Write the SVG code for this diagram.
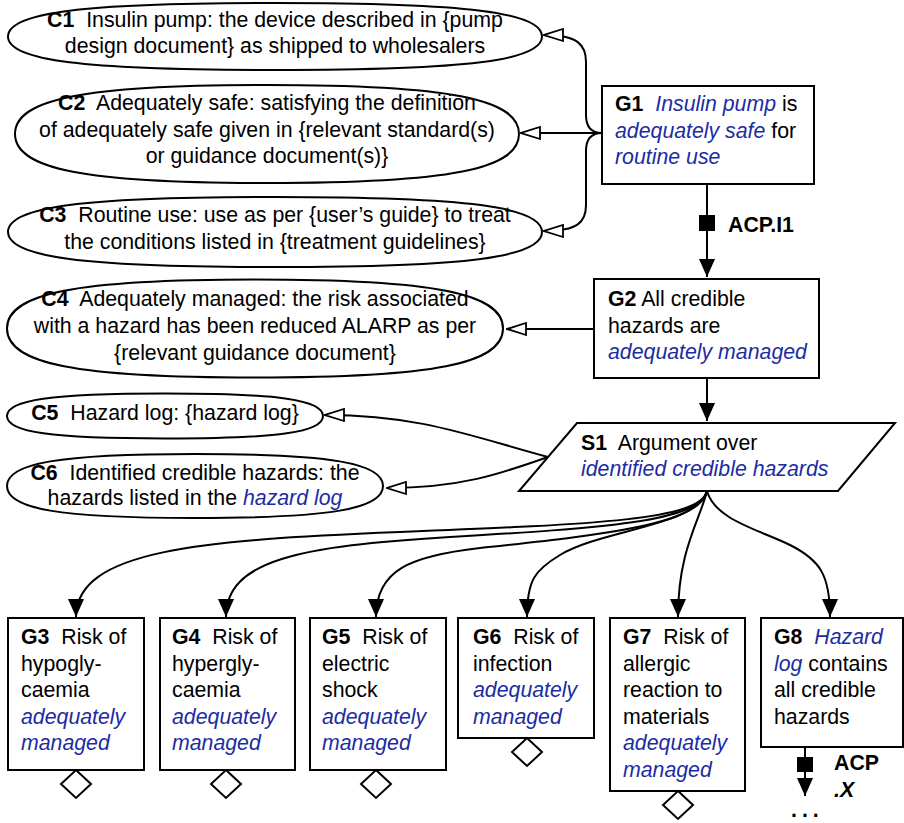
<svg xmlns="http://www.w3.org/2000/svg" width="904" height="823" viewBox="0 0 904 823">
<style>
.t{font-family:"Liberation Sans",Arial,Helvetica,sans-serif;font-size:21.3px;fill:#000}
.m{text-anchor:middle}
.b{font-weight:bold}
.i{font-style:italic;fill:#1c2ca3}
.s{fill:#fff;stroke:#000;stroke-width:2}
.c{fill:none;stroke:#000;stroke-width:2}
</style>
<defs>
<marker id="fa" viewBox="0 0 18 16" refX="18" refY="8" markerWidth="18" markerHeight="16" orient="auto" markerUnits="userSpaceOnUse"><path d="M0,0 L18,8 L0,16 Z" fill="#000"/></marker>
<marker id="oa" viewBox="-1 -1 21 14" refX="19" refY="6" markerWidth="21" markerHeight="14" orient="auto" markerUnits="userSpaceOnUse"><path d="M0,0 L19,6 L0,12 Z" fill="#fff" stroke="#000" stroke-width="1.8"/></marker>
</defs>
<rect width="904" height="823" fill="#fff"/>

<g id="connectors">
<path class="c" d="M602,133 C592,133 586,127 586,115 L586,62 C586,45 578,35 544,35" marker-end="url(#oa)"/>
<path class="c" d="M602,133 L521,133" marker-end="url(#oa)"/>
<path class="c" d="M602,133 C592,133 586,139 586,151 L586,205 C586,222 578,231 544,231" marker-end="url(#oa)"/>
<path class="c" d="M707,184 L707,277" marker-end="url(#fa)"/>
<rect x="699" y="215" width="16" height="16" fill="#000"/>
<path class="c" d="M594,329 L507,329" marker-end="url(#oa)"/>
<path class="c" d="M707,378 L707,421" marker-end="url(#fa)"/>
<path class="c" d="M548,457 C470,436 420,415 325,415" marker-end="url(#oa)"/>
<path class="c" d="M548,457 C500,474 460,488 387,488" marker-end="url(#oa)"/>
<path class="c" d="M707,491 C700,520 600,524 400,532 C200,540 76,550 76,617" marker-end="url(#fa)"/>
<path class="c" d="M707,491 C700,522 600,528 450,537 C300,546 226,560 226,617" marker-end="url(#fa)"/>
<path class="c" d="M707,491 C700,525 600,535 480,548 C410,556 376,570 376,617" marker-end="url(#fa)"/>
<path class="c" d="M707,491 C700,525 600,530 560,555 C535,570 527,580 527,617" marker-end="url(#fa)"/>
<path class="c" d="M707,491 C700,520 678,550 678,617" marker-end="url(#fa)"/>
<path class="c" d="M707,491 C715,520 760,530 790,545 C820,560 830,575 830,617" marker-end="url(#fa)"/>
<path class="c" d="M805,747 L805,796" marker-end="url(#fa)"/>
<rect x="797" y="757" width="16" height="15" fill="#000"/>
</g>

<g id="C1">
<path class="s" d="M8,36.5 C8,12.4 82.8,3 275,3 C467.2,3 542,12.4 542,36.5 C542,60.6 467.2,70 275,70 C82.8,70 8,60.6 8,36.5 Z"/>
<text class="t m" x="275" y="27"><tspan class="b">C1</tspan>&#160; Insulin pump: the device described in {pump</text>
<text class="t m" x="275" y="53">design document} as shipped to wholesalers</text>
</g>
<g id="C2">
<path class="s" d="M15,134 C15,98.7 85.6,85 267,85 C448.4,85 519,98.7 519,134 C519,169.3 448.4,183 267,183 C85.6,183 15,169.3 15,134 Z"/>
<text class="t m" x="267" y="110"><tspan class="b">C2</tspan>&#160; Adequately safe: satisfying the definition</text>
<text class="t m" x="267" y="136.5">of adequately safe given in {relevant standard(s)</text>
<text class="t m" x="267" y="163">or guidance document(s)}</text>
</g>
<g id="C3">
<path class="s" d="M8,232 C8,206.8 82.8,197 275,197 C467.2,197 542,206.8 542,232 C542,257.2 467.2,267 275,267 C82.8,267 8,257.2 8,232 Z"/>
<text class="t m" x="275" y="222"><tspan class="b">C3</tspan>&#160; Routine use: use as per {user’s guide} to treat</text>
<text class="t m" x="275" y="248.5">the conditions listed in {treatment guidelines}</text>
</g>
<g id="C4">
<path class="s" d="M7,328.5 C7,293.2 76.4,279.5 255,279.5 C433.6,279.5 503,293.2 503,328.5 C503,363.8 433.6,377.5 255,377.5 C76.4,377.5 7,363.8 7,328.5 Z"/>
<text class="t m" x="255" y="306"><tspan class="b">C4</tspan>&#160; Adequately managed: the risk associated</text>
<text class="t m" x="255" y="333">with a hazard has been reduced ALARP as per</text>
<text class="t m" x="255" y="359.5">{relevant guidance document}</text>
</g>
<g id="C5">
<path class="s" d="M7,416 C7,399.8 51.2,393.5 165,393.5 C278.8,393.5 323,399.8 323,416 C323,432.2 278.8,438.5 165,438.5 C51.2,438.5 7,432.2 7,416 Z"/>
<text class="t m" x="165" y="420"><tspan class="b">C5</tspan>&#160; Hazard log: {hazard log}</text>
</g>
<g id="C6">
<path class="s" d="M7,486 C7,463 59.6,454 195,454 C330.4,454 383,463 383,486 C383,509 330.4,518 195,518 C59.6,518 7,509 7,486 Z"/>
<text class="t m" x="195" y="480"><tspan class="b">C6</tspan>&#160; Identified credible hazards: the</text>
<text class="t m" x="195" y="505">hazards listed in the <tspan class="i">hazard log</tspan></text>
</g>

<g id="G1">
<rect class="s" x="602" y="86" width="212" height="98"/>
<text class="t" x="615" y="111"><tspan class="b">G1</tspan>&#160; <tspan class="i">Insulin pump</tspan> is</text>
<text class="t" x="615" y="138"><tspan class="i">adequately safe</tspan> for</text>
<text class="t" x="615" y="164"><tspan class="i">routine use</tspan></text>
</g>
<text class="t b" x="728" y="232">ACP.I1</text>
<g id="G2">
<rect class="s" x="594" y="279" width="225" height="99"/>
<text class="t" x="608" y="306"><tspan class="b">G2</tspan> All credible</text>
<text class="t" x="608" y="333">hazards are</text>
<text class="t" x="608" y="359"><tspan class="i">adequately managed</tspan></text>
</g>
<g id="S1">
<path class="s" d="M577,423 L895,423 L838,491 L519,491 Z"/>
<text class="t" x="581" y="450"><tspan class="b">S1</tspan>&#160; Argument over</text>
<text class="t" x="581" y="476"><tspan class="i">identified credible hazards</tspan></text>
</g>

<g id="G3">
<rect class="s" x="8" y="618" width="136" height="152"/>
<text class="t" x="21" y="644"><tspan class="b">G3</tspan>&#160; Risk of</text>
<text class="t" x="21" y="670.6">hypogly-</text>
<text class="t" x="21" y="697.2">caemia</text>
<text class="t i" x="21" y="723.8">adequately</text>
<text class="t i" x="21" y="750.4">managed</text>
<path class="s" d="M76,770 L91,784 L76,798 L61,784 Z"/>
</g>
<g id="G4">
<rect class="s" x="160" y="618" width="135" height="152"/>
<text class="t" x="172" y="644"><tspan class="b">G4</tspan>&#160; Risk of</text>
<text class="t" x="172" y="670.6">hypergly-</text>
<text class="t" x="172" y="697.2">caemia</text>
<text class="t i" x="172" y="723.8">adequately</text>
<text class="t i" x="172" y="750.4">managed</text>
<path class="s" d="M226,770 L241,784 L226,798 L211,784 Z"/>
</g>
<g id="G5">
<rect class="s" x="310" y="618" width="136" height="152"/>
<text class="t" x="322" y="644"><tspan class="b">G5</tspan>&#160; Risk of</text>
<text class="t" x="322" y="670.6">electric</text>
<text class="t" x="322" y="697.2">shock</text>
<text class="t i" x="322" y="723.8">adequately</text>
<text class="t i" x="322" y="750.4">managed</text>
<path class="s" d="M376,770 L391,784 L376,798 L361,784 Z"/>
</g>
<g id="G6">
<rect class="s" x="458" y="618" width="136" height="120"/>
<text class="t" x="473" y="644"><tspan class="b">G6</tspan>&#160; Risk of</text>
<text class="t" x="473" y="670.6">infection</text>
<text class="t i" x="473" y="697.2">adequately</text>
<text class="t i" x="473" y="723.8">managed</text>
<path class="s" d="M527,738 L542,752 L527,766 L512,752 Z"/>
</g>
<g id="G7">
<rect class="s" x="610" y="618" width="135" height="173"/>
<text class="t" x="623" y="644"><tspan class="b">G7</tspan>&#160; Risk of</text>
<text class="t" x="623" y="670.6">allergic</text>
<text class="t" x="623" y="697.2">reaction to</text>
<text class="t" x="623" y="723.8">materials</text>
<text class="t i" x="623" y="750.4">adequately</text>
<text class="t i" x="623" y="777">managed</text>
<path class="s" d="M678,791 L693,805 L678,819 L663,805 Z"/>
</g>
<g id="G8">
<rect class="s" x="761" y="618" width="142" height="129"/>
<text class="t" x="774" y="644"><tspan class="b">G8</tspan>&#160; <tspan class="i">Hazard</tspan></text>
<text class="t" x="774" y="670.6"><tspan class="i">log</tspan> contains</text>
<text class="t" x="774" y="697.2">all credible</text>
<text class="t" x="774" y="723.8">hazards</text>
</g>
<text class="t b" x="834" y="770">ACP</text>
<text class="t b" x="834" y="797" font-style="italic">.X</text>
<text class="t b" x="791" y="817" letter-spacing="5">...</text>
</svg>
